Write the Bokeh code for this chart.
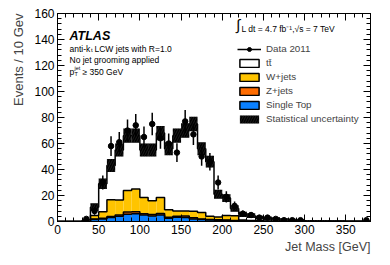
import math
from bokeh.plotting import figure
from bokeh.models import (Range1d, LinearAxis, FixedTicker, Label, Legend, LegendItem, Title,
                          CustomLabelingPolicy)
from bokeh.embed import file_html
from bokeh.resources import INLINE

# ---- data (Events / 10 GeV) ----
bin_lo = list(range(0, 380, 10))
bin_hi = [b + 10 for b in bin_lo]
mc_total = [0, 0, 0, 1, 11, 29, 43, 55, 66, 66, 55, 55, 68, 56, 66, 70, 75, 56, 46, 21,
            18, 10, 5.5, 4.5, 3, 2.5, 2, 1.5, 1.2, 1, 0.6, 0.5, 0.4, 0.3, 0.3, 0.2, 0.2, 0.2]
stat_unc = [0, 0, 0, 0.8, 3, 4, 5, 5, 5.5, 5.5, 5, 5, 5.5, 5, 5.5, 5.5, 5.5, 5, 4.5, 3.5,
            3, 2.5, 2, 1.8, 1.5, 1.3, 1.2, 1, 0.9, 0.8, 0.6, 0.5, 0.5, 0.4, 0.4, 0.3, 0.3, 0.3]
single_top = [0, 0, 0, 0.2, 1.5, 2, 3, 4, 5.5, 6, 5, 4.3, 5, 2.5, 3.3, 3, 2, 1.5, 1.2, 1,
              0.8, 0.5, 0.3, 0.2, 0.2, 0, 0, 0, 0, 0, 0, 0, 0, 0, 0, 0, 0, 0]
z_jets = [0, 0, 0, 0, 0.4, 0.5, 0.8, 1, 1.8, 1.5, 1, 1, 1.2, 0.8, 0.7, 1.2, 0.8, 0.5, 0.4, 0.3,
          0.3, 0.2, 0.1, 0, 0, 0, 0, 0, 0, 0, 0, 0, 0, 0, 0, 0, 0, 0]
w_jets = [0, 0, 0, 0.3, 2.8, 5, 13, 11.5, 16.5, 17.5, 12.5, 10.7, 12.3, 5.7, 4, 3.8, 5, 5, 2.5, 2.2,
          3.5, 3.8, 0.8, 0.5, 0.3, 0.3, 0.2, 0.2, 0, 0, 0, 0, 0, 0, 0, 0, 0, 0]
data_2011 = [0, 0, 0, 2, 8, 30, 58, 61, 70, 74, 65, 75, 64, 60, 53, 77, 67, 50, 46, 30,
             19, 12, 6, 5, 3, 3, 2, 1, 1, 1, 0, 0, 0, 0, 0, 0, 0, 1]
x_ticks = [0, 50, 100, 150, 200, 250, 300, 350]
y_ticks = [0, 20, 40, 60, 80, 100, 120, 140, 160]

FONT = "Liberation Sans"
C_W, C_Z, C_ST = "#FFC400", "#FF6C00", "#0A80FF"
NAN = float("nan")

# stacked levels
lvl_st = list(single_top)
lvl_z = [a + b for a, b in zip(lvl_st, z_jets)]
lvl_w = [a + b for a, b in zip(lvl_z, w_jets)]
lvl_tot = list(mc_total)

p = figure(width=382, height=261, x_range=Range1d(0, 380), y_range=Range1d(0, 160),
           output_backend="svg", toolbar_location=None,
           min_border_left=57, min_border_right=12, min_border_top=13, min_border_bottom=40)
p.xgrid.visible = False
p.ygrid.visible = False
p.outline_line_color = "black"
p.background_fill_color = "white"

# fills
for lvl, col in [(lvl_tot, "white"), (lvl_w, C_W), (lvl_z, C_Z), (lvl_st, C_ST)]:
    p.quad(left=bin_lo, right=bin_hi, bottom=0, top=lvl, fill_color=col, line_color=None)

# outlines
step_x = bin_lo + [bin_hi[-1]]
for lvl in [lvl_tot, lvl_w, lvl_z, lvl_st]:
    p.step(x=step_x, y=lvl + [lvl[-1]], mode="after", line_color="black", line_width=1.5)

# stat uncertainty band
keep = [i for i in range(len(bin_lo)) if stat_unc[i] > 0]
unc_r = p.quad(left=[bin_lo[i] for i in keep], right=[bin_hi[i] for i in keep],
               bottom=[max(mc_total[i] - stat_unc[i], 0) for i in keep],
               top=[mc_total[i] + stat_unc[i] for i in keep],
               fill_color="black", line_color=None,
               hatch_pattern="/", hatch_color="#333333", hatch_alpha=0.9,
               hatch_scale=5, hatch_weight=0.6)

# data
dk = [i for i in range(len(bin_lo)) if data_2011[i] > 0]
cx = [bin_lo[i] + 5 for i in dk]
dy = [data_2011[i] for i in dk]
de = [math.sqrt(v) for v in dy]
p.segment(x0=cx, y0=[a - b for a, b in zip(dy, de)], x1=cx, y1=[a + b for a, b in zip(dy, de)],
          line_color="black", line_width=1.5)
data_r = p.scatter(cx, dy, size=5.5, marker="circle", fill_color="black", line_color="black")

# axes styling
no_labels = CustomLabelingPolicy(code="for (const i of indices) { indices.unset(i) } return indices")

def style_axis(ax, ticks, minor, labels=True):
    ax.ticker = FixedTicker(ticks=ticks, minor_ticks=minor)
    ax.major_tick_in = 7
    ax.major_tick_out = 0
    ax.minor_tick_in = 4
    ax.minor_tick_out = 0
    ax.axis_line_color = "black"
    ax.major_tick_line_color = "black"
    ax.minor_tick_line_color = "black"
    if labels:
        ax.major_label_text_font = FONT
        ax.major_label_text_font_size = "12px"
        ax.major_label_text_color = "black"
        ax.major_label_standoff = 3
    else:
        ax.major_label_policy = no_labels
        ax.major_label_text_font_size = "1px"
        ax.major_label_standoff = 0

x_minor = list(range(0, 381, 10))
y_minor = list(range(0, 161, 4))
style_axis(p.xaxis[0], x_ticks, x_minor)
style_axis(p.yaxis[0], y_ticks, y_minor)
top_ax = LinearAxis()
right_ax = LinearAxis()
style_axis(top_ax, x_ticks, x_minor, labels=False)
style_axis(right_ax, y_ticks, y_minor, labels=False)
p.add_layout(top_ax, "above")
p.add_layout(right_ax, "right")

# axis titles as side titles (aligned to the end like ROOT)
p.add_layout(Title(text="Jet Mass [GeV]", align="right", text_font=FONT, text_font_size="12.5px",
                   text_font_style="normal", standoff=3, offset=0), "below")
p.add_layout(Title(text="Events / 10 Gev", align="right", text_font=FONT, text_font_size="13px",
                   text_font_style="normal", standoff=12, offset=0), "left")

# helpers: page px -> data (frame: x 58..371, y 14..222)
def fx(px):
    return (px - 58) * 380.0 / 313.0
def fy(py):
    return (222 - py) * 160.0 / 208.0

DY = 9  # empirical baseline correction

def txt(px, py, s, size, style="normal", align="left", dy=DY):
    p.add_layout(Label(x=fx(px), y=fy(py + dy), text=s, text_font=FONT, text_font_size=size,
                       text_font_style=style, text_align=align, text_baseline="alphabetic",
                       text_color="black"))

# ATLAS block
txt(70, 29.3, "ATLAS", "12.5px", style="bold italic", dy=7.5)
txt(70, 40, "anti-k", "8.5px")
txt(91.5, 41.5, "t", "6px")
txt(95, 40, "LCW jets with R=1.0", "8.5px")
txt(70, 51, "No jet grooming applied", "8.5px")
txt(70, 63, "p", "8.5px")
txt(75, 59.5, "jet", "5.5px")
txt(75, 65.5, "T", "5.5px")
txt(83, 63, "\u2265 350 GeV", "8.5px")

# luminosity text
txt(236.5, 19, "\u222b", "15px", dy=6)
txt(242, 20, "L dt = 4.7 fb\u207b\u00b9,\u221as = 7 TeV", "8.5px")

# legend (proxies carry NaN so they draw nothing in the plot)
proxy_line = p.line(x=[NAN], y=[NAN], line_color="black", line_width=1.5)
def proxy_box(col):
    return p.quad(left=[NAN], right=[NAN], bottom=[NAN], top=[NAN], fill_color=col,
                  line_color="black", line_width=1.5)
items = [
    LegendItem(label="Data 2011", renderers=[proxy_line, data_r]),
    LegendItem(label="t\u0074\u0304", renderers=[proxy_box("white")]),
    LegendItem(label="W+jets", renderers=[proxy_box(C_W)]),
    LegendItem(label="Z+jets", renderers=[proxy_box(C_Z)]),
    LegendItem(label="Single Top", renderers=[proxy_box(C_ST)]),
    LegendItem(label="Statistical uncertainty", renderers=[unc_r]),
]
leg = Legend(items=items, location=(180, 96), glyph_width=24, glyph_height=10,
             label_height=13, label_width=20, spacing=1, padding=0, margin=0,
             label_standoff=5, label_text_font=FONT, label_text_font_size="9.8px",
             border_line_color=None, background_fill_alpha=0)
p.add_layout(leg)

open("out.html", "w").write(file_html(p, INLINE))
